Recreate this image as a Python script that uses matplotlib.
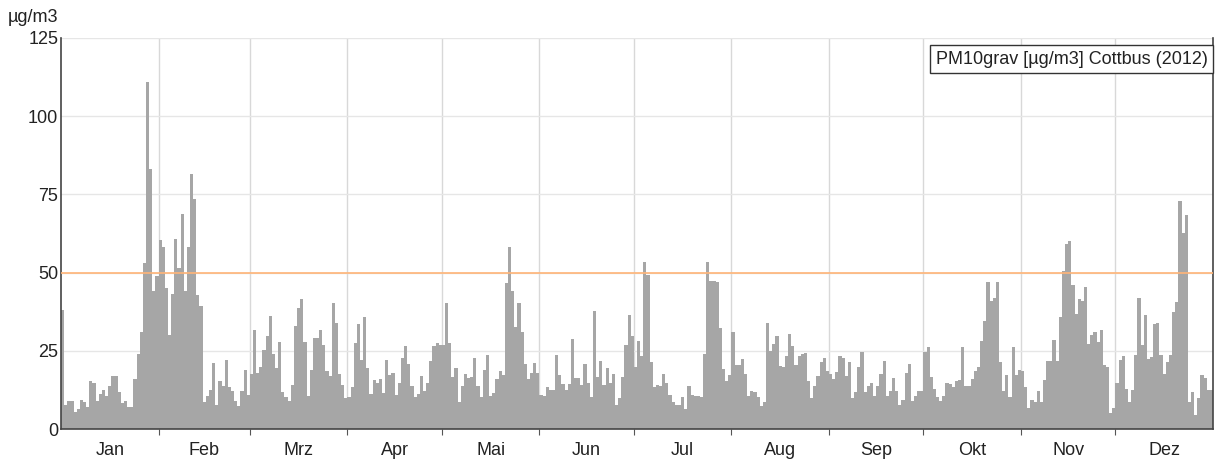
import numpy as np
import matplotlib
matplotlib.use("Agg")
import matplotlib.pyplot as plt

# daily PM10 values, Cottbus 2012
jan = [38, 7.8, 8.8, 8.8, 5.4, 6.3, 9.2, 8.6, 7, 15.2, 14.8, 8.8, 11.3, 12.4, 10.5, 13.7,
       16.9, 17.1, 11.8, 8.4, 8.8, 7, 7, 15.9, 23.9, 30.9, 53, 111, 83, 44, 49]
feb = [60.4, 58.3, 45, 30.2, 43.3, 60.7, 51.4, 68.6, 44, 58.3, 81.4, 73.4, 42.7, 39.4, 8.5,
       10.4, 12.5, 21.2, 7.7, 15.4, 13.8, 22, 13.3, 12.2, 8.8, 7.4, 12.2, 18.9, 10.8]
mar = [17.5, 31.5, 18, 19.8, 25.3, 29.6, 36, 23.9, 19.5, 27.8, 11.7, 10.3, 8.9, 14, 32.8, 38.6,
       41.6, 27.8, 10.5, 18.8, 29.2, 29.2, 31.5, 26.7, 18.5, 17, 40.3, 33.8, 17.5, 14.2, 10]
apr = [10.3, 13.5, 27.5, 33.6, 22, 35.7, 19.5, 11.1, 15.6, 14.7, 16.1, 11.6, 22, 17.2, 17.9,
       11, 14.7, 22.8, 26.6, 20.7, 13.7, 10.3, 11.1, 17.1, 12.2, 14.7, 21.6, 26.6, 27.6, 27]
may = [26.7, 40.3, 27.6, 16.6, 19.5, 8.7, 13.8, 17.7, 16.4, 16.6, 22.7, 13.7, 10.3, 18.8, 23.8,
       10.5, 11.6, 15.9, 18.5, 17.2, 46.7, 58.3, 44, 32.6, 40.3, 31, 20.9, 15.9, 17.9, 21.1, 17.9]
jun = [10.8, 10.6, 13.5, 12.6, 12.6, 23.8, 17.2, 14.3, 12.4, 14.3, 28.8, 16.3, 16.3, 14.2, 20.7,
       14.7, 10.1, 37.6, 16.6, 21.6, 14.2, 19.6, 14.7, 17.5, 7.8, 10, 16.6, 26.9, 36.5, 29.6]
jul = [19.8, 28.1, 23.2, 53.4, 49.3, 21.4, 13.3, 14, 13.7, 17.7, 14.8, 10.8, 8.7, 7.6, 7.6,
       10.1, 6.4, 13.7, 11, 10.7, 10.6, 10.1, 23.9, 53.4, 47.2, 47.4, 47.1, 32.3, 19.1, 15.3, 17.2]
aug = [30.9, 20.6, 20.6, 22.4, 17.6, 10.7, 12.3, 11.8, 10.2, 7.5, 8.6, 34, 25, 27.1, 29.8,
       20.3, 19.7, 23.2, 30.3, 26.4, 20.6, 23.4, 24, 24.3, 15.5, 10, 13.6, 16.8, 21.3, 22.7, 18.7]
sep = [17.5, 16, 18.1, 23.4, 22.8, 16.8, 21.3, 9.9, 11.8, 19.7, 24.5, 11.8, 13.8, 14.6, 10.4,
       13.8, 17.6, 21.8, 10.6, 12.2, 16.2, 12.2, 7.7, 9.3, 18, 20.8, 9, 10.4, 12, 12.3]
okt = [24.7, 26.1, 16.5, 12.8, 10.2, 9, 10.4, 14.6, 14.4, 13.4, 15.2, 15.7, 26.3, 13.9, 13.6,
       15.9, 18.6, 19.7, 28.1, 34.6, 47, 41, 42, 47, 21.5, 12, 17.3, 10.2, 26.1, 17.3, 18.9]
nov = [18.6, 13.5, 6.8, 9.2, 8.7, 12.1, 8.7, 15.8, 21.7, 21.7, 28.3, 21.6, 35.9, 50.4, 59.1,
       60.1, 46.1, 36.8, 41.6, 41, 45.3, 27.3, 30.1, 31, 27.8, 31.8, 20.4, 19.8, 5, 6.6]
dez = [14.7, 22.2, 23.2, 12.9, 8.5, 12.6, 23.5, 41.9, 26.9, 36.3, 22.3, 23, 33.6, 33.8, 23.5,
       17.5, 21.4, 23.8, 37.3, 40.5, 72.9, 62.6, 68.3, 8.7, 11.9, 4.5, 10, 17.4, 16.4, 12.6, 12.4]

months = ["Jan", "Feb", "Mrz", "Apr", "Mai", "Jun", "Jul", "Aug", "Sep", "Okt", "Nov", "Dez"]
month_data = [jan, feb, mar, apr, may, jun, jul, aug, sep, okt, nov, dez]
limit_value = 50

values = np.concatenate(month_data)
days = np.arange(len(values))
lengths = [len(m) for m in month_data]
starts = np.concatenate([[0], np.cumsum(lengths)])
mids = (starts[:-1] + starts[1:]) / 2

plt.rcParams["font.family"] = ["Liberation Sans Narrow", "Liberation Sans", "DejaVu Sans"]

fig = plt.figure(figsize=(12.2, 4.61), dpi=100)
ax = fig.add_axes([61 / 1220, 32 / 461, 1152 / 1220, 391 / 461])

ax.bar(days, values, width=1.0, align="edge", color="#a6a6a6", linewidth=0, zorder=2)
ax.axhline(limit_value, color="#ffb477", linewidth=1.2, zorder=3)

ax.set_xlim(0, len(values))
ax.set_ylim(0, 125)
ax.set_yticks([0, 25, 50, 75, 100, 125])
ax.tick_params(axis="y", labelsize=13, length=0, pad=2, colors="#222222")

# month boundaries get the tick marks, names sit in the middle of each month
ax.set_xticks(starts[1:-1])
ax.set_xticklabels([])
ax.set_xticks(mids, minor=True)
ax.set_xticklabels(months, minor=True, fontsize=13, color="#222222")
ax.tick_params(axis="x", which="major", length=4, color="#555555", direction="out")
ax.tick_params(axis="x", which="minor", length=0, pad=9)

ax.grid(axis="y", color="#e6e6e6", linewidth=1, zorder=0)
ax.grid(axis="x", which="major", color="#d8d8d8", linewidth=1, zorder=0)

for side in ["left", "bottom", "right"]:
    ax.spines[side].set_color("#444444")
    ax.spines[side].set_linewidth(1.2)
ax.spines["top"].set_visible(False)

fig.text(8 / 1220, 1 - 17 / 461, "µg/m3", fontsize=13, va="center", ha="left", color="#222222")

ax.text(0.9953, 0.967, "PM10grav [µg/m3] Cottbus (2012)", transform=ax.transAxes,
        ha="right", va="top", fontsize=13, color="#222222", zorder=5,
        bbox=dict(boxstyle="square,pad=0.3", facecolor="white", edgecolor="#333333", linewidth=1))

fig.savefig("out.png", dpi=100)
